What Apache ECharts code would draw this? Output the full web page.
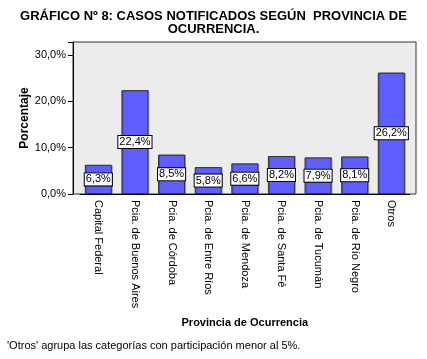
<!DOCTYPE html>
<html><head><meta charset="utf-8">
<script src="https://cdn.jsdelivr.net/npm/echarts@6/dist/echarts.min.js"></script>
<style>html,body{margin:0;padding:0;background:#fff}#c{width:427px;height:359px}</style>
</head><body><div id="c"></div>
<script>
const categories = ['Capital Federal','Pcia. de Buenos Aires','Pcia. de Córdoba','Pcia. de Entre Ríos','Pcia. de Mendoza','Pcia. de Santa Fé','Pcia. de Tucumán','Pcia. de Río Negro','Otros'];
const values = [6.3, 22.4, 8.5, 5.8, 6.6, 8.2, 7.9, 8.1, 26.2];
const yTicks = [0, 10, 20, 30];
const titleLines = ['GRÁFICO Nº 8: CASOS NOTIFICADOS SEGÚN  PROVINCIA DE', 'OCURRENCIA.'];
const yName = 'Porcentaje';
const xName = 'Provincia de Ocurrencia';
const footnote = "'Otros' agrupa las categorías con participación menor al 5%.";

const fmt = v => v.toFixed(1).replace('.', ',') + '%';
const F = 'Liberation Sans, Arial, sans-serif';
const chart = echarts.init(document.getElementById('c'));
chart.setOption({
  animation: false,
  title: {
    text: titleLines.join('\n'), left: 'center', top: 5,
    textStyle: {fontFamily: F, fontSize: 13, fontWeight: 'bold', color: '#000', lineHeight: 13}
  },
  graphic: [
    {type: 'rect', z: 0, shape: {x: 73, y: 42, width: 343, height: 152}, style: {fill: '#ececec', stroke: '#333', lineWidth: 1}},
    {type: 'text', left: 7, top: 340, style: {text: footnote, font: '11px ' + F, fill: '#000'}}
  ],
  grid: {left: 80, right: 17.4, top: 42, bottom: 165},
  xAxis: {
    type: 'category', data: categories,
    name: xName, nameLocation: 'middle', nameGap: 123,
    nameTextStyle: {fontFamily: F, fontSize: 11, fontWeight: 'bold', color: '#000'},
    axisLine: {lineStyle: {color: '#000', width: 1}},
    axisTick: {alignWithLabel: true, length: 6, lineStyle: {color: '#000'}},
    axisLabel: {rotate: -90, fontFamily: F, fontSize: 11, color: '#000', margin: 6, interval: 0}
  },
  yAxis: {
    type: 'value', min: 0, max: 32.8, interval: 10, offset: 7,
    name: yName, nameLocation: 'middle', nameGap: 42, nameMoveOverlap: false,
    nameTextStyle: {fontFamily: F, fontSize: 12, fontWeight: 'bold', color: '#000'},
    axisLine: {show: true, lineStyle: {color: '#000'}},
    axisTick: {show: true, length: 5, lineStyle: {color: '#000'}},
    splitLine: {show: false},
    axisLabel: {fontFamily: F, fontSize: 11, color: '#000', margin: 7,
      formatter: v => yTicks.includes(v) ? fmt(v) : ''}
  },
  series: [{
    type: 'bar', data: values, barWidth: 27, z: 2,
    itemStyle: {color: '#5f5fff', borderColor: '#333', borderWidth: 1,
      shadowColor: 'rgba(0,0,0,0.25)', shadowOffsetX: 1, shadowOffsetY: 0, shadowBlur: 0},
    label: {show: true, position: 'inside', formatter: p => fmt(p.value),
      fontFamily: F, fontSize: 11, color: '#000', backgroundColor: '#fff',
      borderColor: '#000', borderWidth: 1, padding: [1, 1, 0, 1]}
  }]
});
</script></body></html>
